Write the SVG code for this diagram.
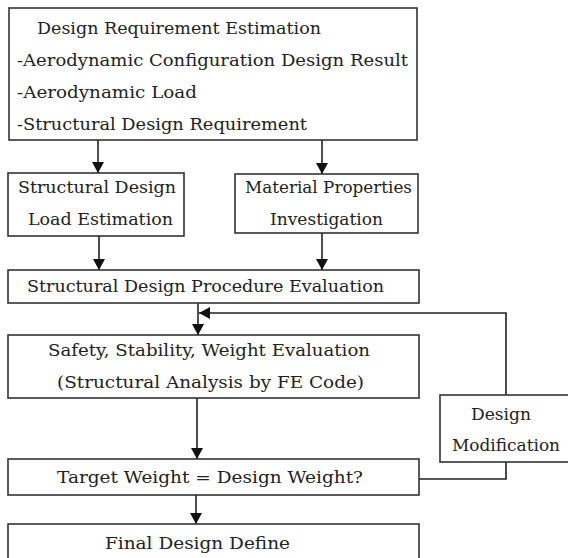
<svg xmlns="http://www.w3.org/2000/svg" width="568" height="558" viewBox="0 0 568 558">
<style>
.box{fill:#fff;stroke:#333;stroke-width:1.6}
.ln{fill:none;stroke:#222;stroke-width:1.6}
text{font-family:"DejaVu Serif","Liberation Serif",serif;font-size:17px;fill:#222}
</style>
<defs>
<marker id="ah" markerWidth="11" markerHeight="12" refX="11" refY="6" orient="auto" markerUnits="userSpaceOnUse" viewBox="0 0 11 12">
<path d="M0,0 L11,6 L0,12 Z" fill="#111"/>
</marker>
</defs>
<rect width="568" height="558" fill="#fff"/>
<g id="connectors">
<line class="ln" x1="98" y1="140" x2="98" y2="173" marker-end="url(#ah)"/>
<line class="ln" x1="322" y1="140" x2="322" y2="174" marker-end="url(#ah)"/>
<line class="ln" x1="99" y1="236" x2="99" y2="270" marker-end="url(#ah)"/>
<line class="ln" x1="322" y1="233" x2="322" y2="270" marker-end="url(#ah)"/>
<line class="ln" x1="198" y1="303" x2="198" y2="335" marker-end="url(#ah)"/>
<polyline class="ln" points="506,395 506,313 199,313" marker-end="url(#ah)"/>
<line class="ln" x1="197" y1="398" x2="197" y2="459" marker-end="url(#ah)"/>
<polyline class="ln" points="419,479 506,479 506,462"/>
<line class="ln" x1="196" y1="495" x2="196" y2="524" marker-end="url(#ah)"/>
</g>
<g id="n1">
<rect class="box" x="9" y="8" width="408" height="132"/>
<text x="37" y="34" textLength="284" lengthAdjust="spacingAndGlyphs">Design Requirement Estimation</text>
<text x="17" y="66" textLength="391" lengthAdjust="spacingAndGlyphs">-Aerodynamic Configuration Design Result</text>
<text x="17" y="98" textLength="180" lengthAdjust="spacingAndGlyphs">-Aerodynamic Load</text>
<text x="17" y="130" textLength="290" lengthAdjust="spacingAndGlyphs">-Structural Design Requirement</text>
</g>
<g id="n2">
<rect class="box" x="8" y="173" width="176" height="63"/>
<text x="18" y="193" textLength="158" lengthAdjust="spacingAndGlyphs">Structural Design</text>
<text x="28" y="225" textLength="145" lengthAdjust="spacingAndGlyphs">Load Estimation</text>
</g>
<g id="n3">
<rect class="box" x="235" y="174" width="183" height="59"/>
<text x="245" y="193" textLength="167" lengthAdjust="spacingAndGlyphs">Material Properties</text>
<text x="270" y="225" textLength="113" lengthAdjust="spacingAndGlyphs">Investigation</text>
</g>
<g id="n4">
<rect class="box" x="8" y="270" width="411" height="33"/>
<text x="27" y="292" textLength="357" lengthAdjust="spacingAndGlyphs">Structural Design Procedure Evaluation</text>
</g>
<g id="n5">
<rect class="box" x="8" y="335" width="411" height="63"/>
<text x="48" y="356" textLength="322" lengthAdjust="spacingAndGlyphs">Safety, Stability, Weight Evaluation</text>
<text x="57" y="388" textLength="307" lengthAdjust="spacingAndGlyphs">(Structural Analysis by FE Code)</text>
</g>
<g id="n6">
<rect class="box" x="8" y="459" width="411" height="36"/>
<text x="57" y="483" textLength="306" lengthAdjust="spacingAndGlyphs">Target Weight = Design Weight?</text>
</g>
<g id="n7">
<rect class="box" x="8" y="524" width="411" height="50"/>
<text x="105" y="549" textLength="185" lengthAdjust="spacingAndGlyphs">Final Design Define</text>
</g>
<g id="n8">
<rect class="box" x="440" y="395" width="130" height="67"/>
<text x="471" y="420" textLength="60" lengthAdjust="spacingAndGlyphs">Design</text>
<text x="452" y="451" textLength="108" lengthAdjust="spacingAndGlyphs">Modification</text>
</g>
</svg>
